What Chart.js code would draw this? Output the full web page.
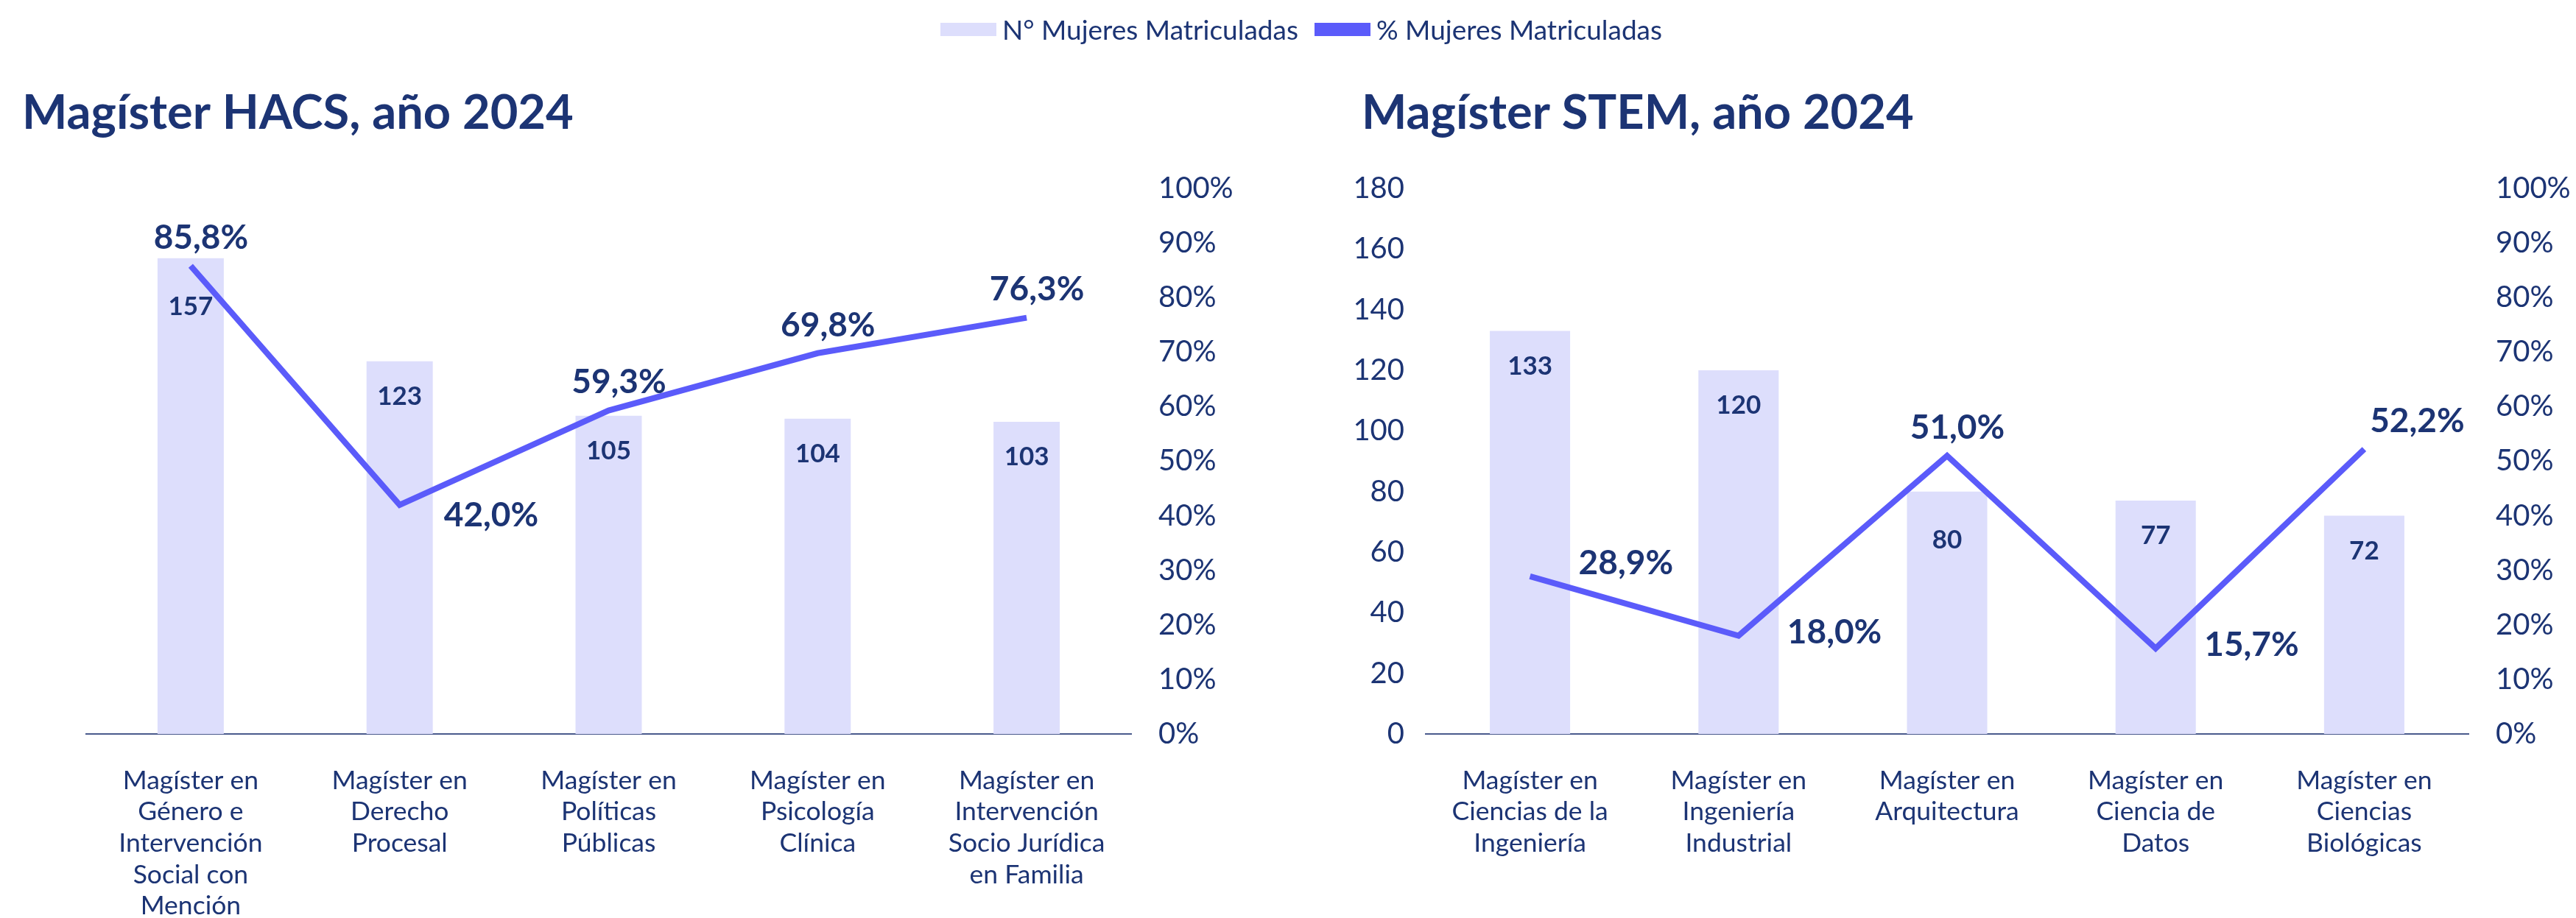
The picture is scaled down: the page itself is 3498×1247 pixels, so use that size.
<!DOCTYPE html>
<html>
<head>
<meta charset="utf-8">
<script src="https://cdn.jsdelivr.net/npm/chart.js@4.4.1/dist/chart.umd.min.js"></script>
<style>
  html, body { margin:0; padding:0; background:#ffffff; width:3498px; height:1247px; overflow:hidden; }
  body { position:relative; }
  .panel { position:absolute; top:0; width:1749px; height:1247px; }
  #legend { position:absolute; top:17px; left:1277px; display:flex; align-items:center; z-index:3;
            font-family:Lato, "Open Sans", sans-serif; font-size:37px; color:#1c3474; white-space:nowrap; }
  #legend .item { display:flex; align-items:center; margin-right:22px; }
  #legend .swatch { width:76px; height:18px; margin-right:8px; }
</style>
</head>
<body>
<div id="legend"></div>
<div class="panel" style="left:0"><canvas id="hacs" width="1749" height="1247"></canvas></div>
<div class="panel" style="left:1749px"><canvas id="stem" width="1749" height="1247"></canvas></div>
<script>
// ---------- data ----------
const seriesNames = ["N° Mujeres Matriculadas", "% Mujeres Matriculadas"];

const hacsTitle = "Magíster HACS, año 2024";
const hacsCategories = [
  ["Magíster en", "Género e", "Intervención", "Social con", "Mención"],
  ["Magíster en", "Derecho", "Procesal"],
  ["Magíster en", "Políticas", "Públicas"],
  ["Magíster en", "Psicología", "Clínica"],
  ["Magíster en", "Intervención", "Socio Jurídica", "en Familia"]
];
const hacsCount = [157, 123, 105, 104, 103];
const hacsPct = [85.8, 42.0, 59.3, 69.8, 76.3];

const stemTitle = "Magíster STEM, año 2024";
const stemCategories = [
  ["Magíster en", "Ciencias de la", "Ingeniería"],
  ["Magíster en", "Ingeniería", "Industrial"],
  ["Magíster en", "Arquitectura"],
  ["Magíster en", "Ciencia de", "Datos"],
  ["Magíster en", "Ciencias", "Biológicas"]
];
const stemCount = [133, 120, 80, 77, 72];
const stemPct = [28.9, 18.0, 51.0, 15.7, 52.2];

const countAxisMax = 180, countAxisStep = 20;
const pctAxisMax = 100, pctAxisStep = 10;

// label placement keywords (style, not data)
const hacsCountLabelPos = ["low", "top", "top", "top", "top"];
const stemCountLabelPos = ["top", "top", "low", "top", "top"];
const hacsPctLabelPos = ["above", "rightLow", "above", "above", "above"];
const stemPctLabelPos = ["rightHigh", "right", "above", "right", "aboveRight"];

// ---------- style ----------
const NAVY = "#1c3474";
const BAR = "#dddefc";
const LINE = "#5b5bfa";
const AXIS = "#4a5a8c";
const FONT = "Lato, 'Open Sans', sans-serif";

const fmtPct = v => v.toFixed(1).replace(".", ",") + "%";

const valueLabels = {
  id: "valueLabels",
  afterDatasetsDraw(chart) {
    const ctx = chart.ctx;
    ctx.save();
    ctx.fillStyle = NAVY;
    ctx.textBaseline = "middle";
    chart.data.datasets.forEach((ds, i) => {
      const meta = chart.getDatasetMeta(i);
      meta.data.forEach((el, j) => {
        if (ds.type === "bar") {
          ctx.font = "bold 35px " + FONT;
          ctx.textAlign = "center";
          const dy = ds.labelPos[j] === "low" ? 66 : 48;
          ctx.fillText(String(ds.data[j]), el.x, el.y + dy);
        } else {
          ctx.font = "bold 46px " + FONT;
          const txt = fmtPct(ds.data[j]);
          const p = ds.labelPos[j];
          if (p === "right") {
            ctx.textAlign = "left";
            ctx.fillText(txt, el.x + 66, el.y - 4);
          } else if (p === "rightHigh") {
            ctx.textAlign = "left";
            ctx.fillText(txt, el.x + 66, el.y - 18);
          } else if (p === "rightLow") {
            ctx.textAlign = "left";
            ctx.fillText(txt, el.x + 60, el.y + 14);
          } else if (p === "aboveRight") {
            ctx.textAlign = "center";
            ctx.fillText(txt, el.x + 72, el.y - 38);
          } else {
            ctx.textAlign = "center";
            ctx.fillText(txt, el.x + 14, el.y - 38);
          }
        }
      });
    });
    ctx.restore();
  }
};

const titleShift = {
  id: "titleShift",
  afterLayout(chart, args, opts) {
    if (chart.titleBlock) chart.titleBlock.left = opts.x;
  }
};

function makeChart(id, title, cats, counts, pcts, countPos, pctPos, opt) {
  return new Chart(document.getElementById(id), {
    data: {
      labels: cats,
      datasets: [
        { type: "bar", label: seriesNames[0], data: counts, backgroundColor: BAR, borderWidth: 0,
          yAxisID: "y", order: 2, barPercentage: opt.barPct, categoryPercentage: 1, labelPos: countPos },
        { type: "line", label: seriesNames[1], data: pcts, borderColor: LINE, backgroundColor: LINE,
          borderWidth: 8, pointRadius: 0, tension: 0, yAxisID: "y1", order: 1, labelPos: pctPos }
      ]
    },
    options: {
      responsive: false,
      animation: false,
      layout: { padding: { left: opt.padLeft, right: 0, top: 0, bottom: 0 } },
      plugins: {
        legend: { display: false },
        tooltip: { enabled: false },
        titleShift: { x: opt.titleX },
        title: { display: true, text: title, align: "start", color: NAVY,
                 font: { family: FONT, weight: "bold", size: 65, lineHeight: 1.2 },
                 padding: { top: 115, bottom: 63 } }
      },
      scales: {
        x: {
          type: "category",
          grid: { display: false, drawTicks: false },
          border: { display: true, color: AXIS, width: 2 },
          ticks: { color: NAVY, font: { family: FONT, size: 35.5, lineHeight: 1.2 }, padding: 42,
                   maxRotation: 0, minRotation: 0, autoSkip: false },
          afterFit(s) { s.height = 250; }
        },
        y: {
          position: "left", min: 0, max: countAxisMax,
          grid: { display: false, drawTicks: false },
          border: { display: false },
          ticks: { display: opt.showLeft, stepSize: countAxisStep, color: NAVY,
                   font: { family: FONT, size: 40 }, padding: 29 },
          afterFit(s) { s.width = opt.leftW; }
        },
        y1: {
          position: "right", min: 0, max: pctAxisMax,
          grid: { display: false, drawTicks: false },
          border: { display: false },
          ticks: { stepSize: pctAxisStep, color: NAVY, font: { family: FONT, size: 40 }, padding: 37,
                   callback: v => v + "%" },
          afterFit(s) { s.width = opt.rightW; }
        }
      }
    },
    plugins: [valueLabels, titleShift]
  });
}

const hacsChart = makeChart("hacs", hacsTitle, hacsCategories, hacsCount, hacsPct,
  hacsCountLabelPos, hacsPctLabelPos,
  { padLeft: 30, leftW: 87, titleX: 30, showLeft: false, rightW: 213, barPct: 0.317 });
const stemChart = makeChart("stem", stemTitle, stemCategories, stemCount, stemPct,
  stemCountLabelPos, stemPctLabelPos,
  { padLeft: 40, leftW: 147, titleX: 100, showLeft: true, rightW: 146, barPct: 0.385 });

// shared legend built from the chart's datasets
const legendEl = document.getElementById("legend");
hacsChart.data.datasets.forEach(ds => {
  const item = document.createElement("div");
  item.className = "item";
  const sw = document.createElement("span");
  sw.className = "swatch";
  sw.style.background = ds.type === "bar" ? ds.backgroundColor : ds.borderColor;
  const tx = document.createElement("span");
  tx.textContent = ds.label;
  item.appendChild(sw); item.appendChild(tx);
  legendEl.appendChild(item);
});
</script>
</body>
</html>
